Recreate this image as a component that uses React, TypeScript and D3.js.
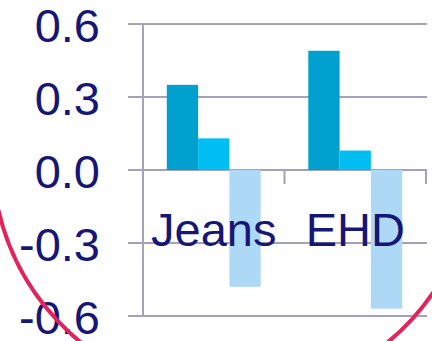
import React from "react";
import * as d3 from "d3";

const categories = ["Jeans", "EHD"];
const seriesNames = ["s1", "s2", "s3"];
const jeansValues = [0.35, 0.13, -0.48];
const ehdValues = [0.49, 0.08, -0.57];
const yTicks = [0.6, 0.3, 0.0, -0.3, -0.6];

const seriesColors = ["#00a1cf", "#00bef1", "#aed9f6"];
const textColor = "#161677";
const gridColor = "#a3a2ba";
const ringColor = "#e2245d";

const W = 432;
const H = 341;

// tick labels use a plain hyphen for negatives
const fmt = (v: number) => d3.format(".1f")(v).replace("\u2212", "-");

export default function App() {
  const values = [jeansValues, ehdValues];

  const y = d3.scaleLinear().domain([-0.6, 0.6]).range([316, 24]);
  const x0 = d3.scaleBand<string>().domain(categories).range([143, 426]);
  const x1 = d3
    .scaleBand<string>()
    .domain(seriesNames)
    .range([0, x0.bandwidth()])
    .paddingOuter(0.76);

  const fontFamily = "'Liberation Sans', Arial, sans-serif";

  // lower arc of a large ring
  const cx = 234;
  const cy = 155;
  const r = 242;
  const yStart = 210;
  const yEnd = 280;
  const xs = cx - Math.sqrt(r * r - (yStart - cy) ** 2);
  const xe = cx + Math.sqrt(r * r - (yEnd - cy) ** 2);
  const ringPath = `M${xs},${yStart} A${r},${r} 0 0 0 ${xe},${yEnd}`;

  return (
    <svg
      width={W}
      height={H}
      style={{ position: "absolute", left: 0, top: 0, background: "#fff" }}
    >
      {/* horizontal gridlines with left tick stubs */}
      {yTicks.map((t) => (
        <line
          key={"g" + t}
          x1={128}
          x2={427}
          y1={y(t)}
          y2={y(t)}
          stroke={gridColor}
          strokeWidth={2}
        />
      ))}
      {/* value axis */}
      <line x1={143} x2={143} y1={y(0.6)} y2={y(-0.6)} stroke={gridColor} strokeWidth={2} />
      {/* category tick marks below zero line */}
      {[143, ...categories.map((c) => (x0(c) as number) + x0.bandwidth())].map((xx, i) => (
        <line
          key={"ct" + i}
          x1={xx}
          x2={xx}
          y1={y(0)}
          y2={y(0) + 14}
          stroke={gridColor}
          strokeWidth={2}
        />
      ))}

      {/* bars */}
      {categories.map((c, ci) =>
        values[ci].map((v, si) => {
          const bx = (x0(c) as number) + (x1(seriesNames[si]) as number);
          const top = y(Math.max(0, v));
          const bottom = y(Math.min(0, v));
          return (
            <rect
              key={c + si}
              x={bx}
              y={top}
              width={x1.bandwidth()}
              height={bottom - top}
              fill={seriesColors[si]}
            />
          );
        })
      )}

      {/* y tick labels */}
      {yTicks.map((t) => (
        <text
          key={"l" + t}
          x={100}
          y={y(t) + 18}
          textAnchor="end"
          fontFamily={fontFamily}
          fontSize={47}
          fill={textColor}
        >
          {fmt(t)}
        </text>
      ))}

      {/* category labels */}
      {categories.map((c) => (
        <text
          key={"c" + c}
          x={(x0(c) as number) + x0.bandwidth() / 2}
          y={246}
          textAnchor="middle"
          fontFamily={fontFamily}
          fontSize={47}
          fill={textColor}
        >
          {c}
        </text>
      ))}

      {/* decorative ring */}
      <path d={ringPath} fill="none" stroke={ringColor} strokeWidth={4} />
    </svg>
  );
}
